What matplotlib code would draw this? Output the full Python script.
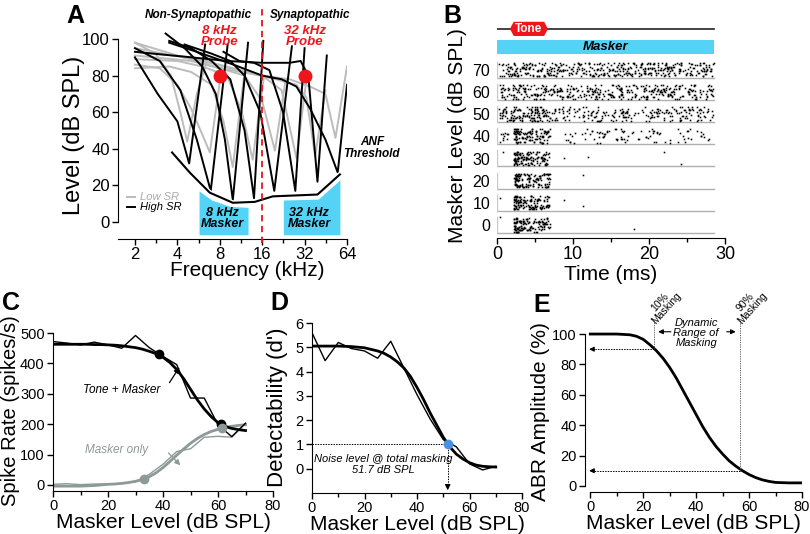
import numpy as np
import matplotlib
matplotlib.use('Agg')
import matplotlib.pyplot as plt
from matplotlib.patches import Polygon, Rectangle
from matplotlib.ticker import FixedLocator, NullFormatter
import matplotlib.patheffects as pe

plt.rcParams['font.family'] = ['Liberation Sans', 'DejaVu Sans']

# ---------------- Panel A data (frequency kHz, level dB SPL) ----------------
high_sr_freqs = [
    [2.0, 2.9, 4.0, 4.85, 6.3],
    [2.0, 3.0, 4.2, 5.5, 6.9, 9.1],
    [3.3, 4.5, 6.0, 7.5, 8.7, 9.9, 12.7],
    [3.5, 5.0, 7.0, 9.5, 12.0, 14.0, 16.3],
    [4.5, 7.0, 9.5, 12.0, 15.5, 19.5, 26.0],
    [8.5, 11.0, 14.0, 18.0, 22.5, 27.5, 32.0],
    [2.0, 5.0, 9.0, 16.0, 25.0, 30.0, 34.0, 39.5, 46.0],
    [3.5, 6.0, 10.0, 16.0, 22.0, 28.0, 35.0, 45.0, 55.0, 64.0],
]
high_sr_levels = [
    [90, 70, 55, 32, 97],
    [95, 88, 72, 45, 17, 97],
    [103, 95, 85, 70, 45, 12, 98],
    [99, 95, 88, 78, 50, 13, 99],
    [97, 92, 88, 80, 60, 17, 96],
    [93, 88, 87, 83, 60, 17, 95],
    [93, 90, 88, 87, 87, 88, 80, 22, 91],
    [98, 92, 86, 80, 78, 74, 62, 45, 27, 75],
]
low_sr_freqs = [
    [2.0, 2.8, 3.6, 4.2, 4.7, 5.5, 6.5],
    [2.0, 3.0, 4.0, 5.0, 6.0, 6.8, 8.3],
    [2.0, 3.5, 5.0, 7.0, 8.5, 9.9, 12.0],
    [2.0, 4.0, 6.0, 9.0, 11.5, 13.7, 16.5],
    [2.0, 5.0, 8.0, 12.0, 16.0, 19.7, 23.5],
    [2.0, 5.0, 10.0, 16.0, 22.0, 28.0, 33.0],
    [2.0, 6.0, 12.0, 20.0, 28.0, 33.0, 38.0, 45.0],
    [2.0, 8.0, 16.0, 25.0, 35.0, 45.0, 53.0, 64.0],
]
low_sr_levels = [
    [98, 92, 80, 60, 44, 70, 88],
    [86, 84, 75, 62, 48, 38, 85],
    [84, 85, 82, 75, 55, 30, 82],
    [89, 88, 85, 80, 60, 34, 80],
    [91, 88, 84, 80, 66, 39, 78],
    [93, 90, 84, 80, 72, 35, 78],
    [95, 88, 82, 78, 75, 68, 36, 72],
    [98, 84, 80, 78, 74, 70, 46, 85],
]
anf_thr_freq = [3.67, 4.9, 6.8, 9.9, 14.2, 19.0, 39.5, 57.0]
anf_thr_level = [38, 27, 16, 10.5, 11, 14, 15, 26]
masker8_freq = [5.7, 7.0, 9.5, 12.7]
masker8_top = [17, 12, 8.5, 8]
masker32_freq = [22.6, 40.0, 57.0]
masker32_top = [12, 12.5, 23]
masker_bottom = -7
probe_freqs = [8, 32]
probe_levels = [80, 80]
synaptopathy_edge = 16
freq_ticks = [2, 4, 8, 16, 32, 64]

# ---------------- Panel B data (raster) ----------------
raster_levels = [0, 10, 20, 30, 40, 50, 60, 70]
# (start ms, end ms, spike count) segments read from each row
raster_segments = [
    [(2.2, 2.9, 40), (2.9, 7.0, 95)],
    [(2.2, 2.9, 40), (2.9, 7.0, 95)],
    [(2.2, 2.9, 40), (2.9, 7.0, 95)],
    [(2.2, 2.9, 40), (2.9, 7.0, 95)],
    [(0.3, 2.0, 10), (2.2, 2.9, 35), (2.9, 7.0, 85), (9.0, 28.0, 90)],
    [(0.2, 7.0, 130), (7.0, 28.5, 200)],
    [(0.2, 28.5, 380)],
    [(0.2, 28.5, 420)],
]
# sporadic single spikes (time ms, height within row)
raster_sporadic = [
    [(0.4, 0.65), (18.0, 0.1)],
    [(0.4, 0.5), (8.8, 0.45), (11.3, 0.15)],
    [(11.3, 0.55)],
    [(0.8, 0.6), (8.8, 0.3), (12.0, 0.35), (22.0, 0.6), (24.2, 0.05)],
    [], [], [], [],
]
stim_end = 28.6
tone_on, tone_off = 1.7, 6.7

# ---------------- Panel C data ----------------
c_levels = [0, 5, 10, 15, 20, 25, 30, 35, 40, 45, 50, 55, 60, 65, 70]
c_tone_masker = [472, 467, 461, 470, 461, 450, 492, 452, 423, 396, 286, 286, 198, 159, 203]
c_masker_only = [2, 4, 1, 3, 3, 5, 10, 35, 68, 110, 119, 157, 160, 157, 203]
c_fit_levels = [0, 2.5, 5, 7.5, 10, 12.5, 15, 17.5, 20, 22.5, 25, 27.5, 30, 32.5, 35,
                37.5, 40, 42.5, 45, 47.5, 50, 52.5, 55, 57.5, 60, 62.5, 65, 67.5, 70]
c_fit_tone = [463, 463, 463, 463, 463, 463, 462, 462, 461, 460, 458, 455, 452, 447, 440,
              432, 420, 403, 380, 350, 315, 280, 250, 225, 205, 193, 186, 182, 179]
c_fit_masker = [-4, -4, -4, -4, -4, -3, -2, 0, 2, 3, 5, 8, 12, 18, 27,
                40, 57, 77, 98, 118, 137, 153, 166, 176, 183, 189, 193, 196, 198]
c_tone_marks_x = [38.5, 61]
c_tone_marks_y = [432, 202]
c_mask_marks_x = [33, 61.5]
c_mask_marks_y = [20, 186]

# ---------------- Panel D data ----------------
d_levels = [0, 5, 10, 15, 20, 25, 30, 35, 40, 45, 50, 55, 60, 65, 70]
d_prime = [5.6, 4.45, 5.2, 4.95, 4.85, 4.55, 5.25, 4.15, 3.05, 2.05, 1.2, 0.9, 0.2, -0.05, 0.1]
d_fit_levels = [0, 5, 10, 15, 20, 25, 27.5, 30, 32.5, 35, 37.5, 40, 42.5, 45, 47.5,
                50, 52.5, 55, 57.5, 60, 62.5, 65, 67.5, 70]
d_fit = [5.05, 5.05, 5.05, 5.03, 4.98, 4.85, 4.75, 4.6, 4.4, 4.15, 3.8, 3.35, 2.85, 2.3, 1.8,
         1.3, 0.9, 0.6, 0.4, 0.25, 0.15, 0.1, 0.08, 0.07]
d_threshold_level = 51.7
d_threshold_dprime = 1.0

# ---------------- Panel E data ----------------
e_levels = [0, 5, 10, 15, 17.5, 20, 22.5, 25, 27.5, 30, 32.5, 35, 37.5, 40, 42.5, 45,
            47.5, 50, 52.5, 55, 57.5, 60, 62.5, 65, 67.5, 70, 75, 80]
e_amp = [100, 100, 100, 99.5, 98.5, 96.5, 93, 89, 84, 78, 71, 63, 55, 47, 39, 32,
         26, 21, 16.5, 13, 10, 7.5, 5.5, 4, 3, 2.3, 2, 2]
e_mask10_level, e_mask90_level = 24, 56.5

# ---------------- figure ----------------
fig = plt.figure(figsize=(8.1, 5.34), dpi=100)


def rect(l, t, r, b):
    return [l / 810, 1 - b / 534, (r - l) / 810, (b - t) / 534]


LAB = 15
CYAN = '#55d3f6'
GREY = '#bcbcbc'


def style(ax, tsize):
    for s in ('top', 'right'):
        ax.spines[s].set_visible(False)
    ax.tick_params(direction='out', length=4, width=1, labelsize=tsize, pad=2)
    ax.tick_params(which='minor', direction='out', length=3, width=1)


# ===== Panel A =====
axA = fig.add_axes(rect(118, 31.7, 347, 239))
axA.set_xscale('log', base=2)
axA.set_xlim(1.516, 64)
axA.set_ylim(-9.3, 104)
style(axA, 12)
axA.spines['left'].set_bounds(0, 100)
axA.set_xticks(freq_ticks)
axA.set_xticklabels([str(f) for f in freq_ticks])
axA.xaxis.set_minor_locator(FixedLocator([f * 2 ** 0.5 for f in freq_ticks[:-1]]))
axA.xaxis.set_minor_formatter(NullFormatter())
axA.set_yticks([0, 20, 40, 60, 80, 100])
axA.set_xlabel('Frequency (kHz)', fontsize=LAB)
axA.xaxis.set_label_coords(0.563, -0.105)
axA.set_ylabel('Level (dB SPL)', fontsize=17)
axA.yaxis.set_label_coords(-0.144, 0.5)

axA.fill_between(masker8_freq, masker_bottom, masker8_top, color=CYAN, lw=0, zorder=1)
axA.fill_between(masker32_freq, masker_bottom, masker32_top, color=CYAN, lw=0, zorder=1)
for fr, lv in zip(low_sr_freqs, low_sr_levels):
    axA.plot(fr, lv, color=GREY, lw=1.4, zorder=2)
for fr, lv in zip(high_sr_freqs, high_sr_levels):
    axA.plot(fr, lv, color='black', lw=1.4, zorder=3)
axA.plot(anf_thr_freq, anf_thr_level, color='black', lw=1.5, zorder=4,
         path_effects=[pe.Stroke(linewidth=3.5, foreground='white'), pe.Normal()])
axA.plot([synaptopathy_edge, synaptopathy_edge], [-11.5, 117], color='#e8141b',
         lw=1.3, ls=(0, (3.5, 2.5)), clip_on=False, zorder=5)
axA.plot(probe_freqs, probe_levels, 'o', color='#f0141b', ms=10, mew=0, zorder=6)

it = dict(style='italic', fontweight='bold', ha='center', va='center')
axA.text(5.6, 113, 'Non-Synaptopathic', fontsize=8.5, clip_on=False, **it)
axA.text(35, 113, 'Synaptopathic', fontsize=8.5, clip_on=False, **it)
axA.text(8, 101.5, '8 kHz\nProbe', fontsize=9.5, color='#f0141b', linespacing=0.9, **it)
axA.text(32, 101.5, '32 kHz\nProbe', fontsize=9.5, color='#f0141b', linespacing=0.9, **it)
axA.text(8.4, 2, '8 kHz\nMasker', fontsize=9, linespacing=0.95, zorder=7, **it)
axA.text(34.5, 2, '32 kHz\nMasker', fontsize=9, linespacing=0.95, zorder=7, **it)
axA.text(96, 40.5, 'ANF\nThreshold', fontsize=8.5, linespacing=0.95, **it)
axA.annotate('', xy=(65, 25.5), xytext=(80, 30.5),
             arrowprops=dict(arrowstyle='-|>', color='black', lw=0.8, mutation_scale=7))
axA.plot([1.75, 2.0], [13.7, 13.7], color=GREY, lw=1.4, clip_on=False)
axA.plot([1.75, 2.0], [8.2, 8.2], color='black', lw=1.4, clip_on=False)
axA.text(2.16, 13.7, 'Low SR', fontsize=8, style='italic', color='#aaaaaa', va='center')
axA.text(2.16, 8.2, 'High SR', fontsize=8, style='italic', color='black', va='center')

# ===== Panel B =====
axB = fig.add_axes(rect(497, 20, 725, 238))
axB.set_xlim(0, 30)
axB.set_ylim(-0.225, 9.6)
style(axB, 13)
axB.spines['left'].set_visible(False)
axB.spines['bottom'].set_bounds(0, 30)
axB.set_xticks([0, 10, 20, 30])
axB.xaxis.set_minor_locator(FixedLocator([5, 15, 25]))
axB.set_yticks([k + 0.35 for k in range(len(raster_levels))])
axB.set_yticklabels([str(v) for v in raster_levels])
axB.tick_params(axis='y', length=0, pad=5, labelsize=11.5)
axB.set_xlabel('Time (ms)', fontsize=LAB, labelpad=1)
axB.set_ylabel('Masker Level (dB SPL)', fontsize=LAB)
axB.yaxis.set_label_coords(-0.13, 0.468)

rng = np.random.default_rng(11)
for i, segs in enumerate(raster_segments):
    axB.plot([0, stim_end], [i, i], color='#b0b0b0', lw=1.0, zorder=1)
    axB.plot([0, 0], [i, i + 0.72], color='#c8c8c8', lw=1.0, zorder=1)
    ts, ys = [], []
    for t0, t1, n in segs:
        ts.append(rng.uniform(t0, t1, n))
        ys.append(i + 0.06 + 0.055 * rng.integers(0, 12, n))
    for t, h in raster_sporadic[i]:
        ts.append(np.array([t]))
        ys.append(np.array([i + 0.06 + h]))
    axB.plot(np.concatenate(ts), np.concatenate(ys), 's', color='black', ms=1.15, mew=0, zorder=2)

axB.add_patch(Rectangle((0, 8.08), stim_end, 0.63, color=CYAN, lw=0, zorder=1))
axB.text(stim_end / 2, 8.4, 'Masker', fontsize=9.5, style='italic', fontweight='bold',
         ha='center', va='center')
axB.plot([0, stim_end], [9.2, 9.2], color='#222222', lw=1.2, zorder=1)
hx = [tone_on, tone_on + 0.5, tone_off - 0.5, tone_off, tone_off - 0.5, tone_on + 0.5]
hy = [9.2, 9.52, 9.52, 9.2, 8.88, 8.88]
axB.add_patch(Polygon(list(zip(hx, hy)), closed=True, color='#f0141b', lw=0, zorder=2))
axB.text((tone_on + tone_off) / 2, 9.2, 'Tone', fontsize=8.5, color='white', fontweight='bold',
         ha='center', va='center', zorder=3)

# ===== Panel C =====
axC = fig.add_axes(rect(53, 330, 273, 491))
axC.set_xlim(0, 80)
axC.set_ylim(-20, 510)
style(axC, 10.5)
axC.spines['left'].set_bounds(-20, 500)
axC.set_xticks([0, 20, 40, 60, 80])
axC.xaxis.set_minor_locator(FixedLocator([10, 30, 50, 70]))
axC.set_yticks([0, 100, 200, 300, 400, 500])
axC.set_xlabel('Masker Level (dB SPL)', fontsize=LAB, labelpad=0)
axC.set_ylabel('Spike Rate (spikes/s)', fontsize=14.5)
axC.yaxis.set_label_coords(-0.15, 0.5)
CG = '#8e9999'
axC.plot(c_levels, c_masker_only, color=CG, lw=1.0)
axC.plot(c_fit_levels, c_fit_masker, color=CG, lw=2.0)
axC.plot(c_levels, c_tone_masker, color='black', lw=1.0)
axC.plot(c_fit_levels, c_fit_tone, color='black', lw=2.0)
axC.plot(c_tone_marks_x, c_tone_marks_y, 'o', color='black', ms=7, mew=0)
axC.plot(c_mask_marks_x, c_mask_marks_y, 'o', color=CG, ms=7, mew=0)
axC.text(25, 312, 'Tone + Masker', fontsize=8.5, style='italic', ha='center', va='center')
axC.annotate('', xy=(46.5, 395), xytext=(41.8, 329),
             arrowprops=dict(arrowstyle='-|>', color='black', lw=0.9, mutation_scale=8))
axC.text(23, 115, 'Masker only', fontsize=8.5, style='italic', color=CG, ha='center', va='center')
axC.annotate('', xy=(47, 58), xytext=(41.3, 112),
             arrowprops=dict(arrowstyle='-|>', color=CG, lw=0.9, mutation_scale=8))

# ===== Panel D =====
axD = fig.add_axes(rect(312, 320.6, 522, 493))
axD.set_xlim(0, 80)
axD.set_ylim(-1, 6.1)
style(axD, 10.5)
axD.spines['left'].set_bounds(-1, 6)
axD.set_xticks([0, 20, 40, 60, 80])
axD.xaxis.set_minor_locator(FixedLocator([10, 30, 50, 70]))
axD.set_yticks([0, 1, 2, 3, 4, 5, 6])
axD.set_xlabel('Masker Level (dB SPL)', fontsize=LAB, labelpad=0)
axD.set_ylabel("Detectability (d')", fontsize=16)
axD.yaxis.set_label_coords(-0.112, 0.5)
axD.plot(d_levels, d_prime, color='black', lw=1.0)
axD.plot(d_fit_levels, d_fit, color='black', lw=2.0)
axD.plot([0, d_threshold_level], [d_threshold_dprime] * 2, color='black', lw=0.7, ls=(0, (1.5, 1.2)))
axD.plot([d_threshold_level] * 2, [d_threshold_dprime, -0.75], color='black', lw=0.7, ls=(0, (1.5, 1.2)))
axD.annotate('', xy=(d_threshold_level, -1.0), xytext=(d_threshold_level, -0.6),
             arrowprops=dict(arrowstyle='-|>', color='black', lw=0.8, mutation_scale=8))
axD.plot([d_threshold_level], [d_threshold_dprime], 'o', color='#4a90e2', ms=7, mew=0, zorder=5)
axD.text(27, 0.18, 'Noise level @ total masking\n51.7 dB SPL', fontsize=8, style='italic',
         ha='center', va='center', linespacing=1.1)

# ===== Panel E =====
axE = fig.add_axes(rect(585, 331, 802, 492))
axE.set_xlim(-2, 80)
axE.set_ylim(-4, 102)
style(axE, 10.5)
axE.spines['left'].set_bounds(0, 100)
axE.spines['bottom'].set_bounds(0, 80)
axE.set_xticks([0, 20, 40, 60, 80])
axE.xaxis.set_minor_locator(FixedLocator([10, 30, 50, 70]))
axE.set_yticks([0, 20, 40, 60, 80, 100])
axE.set_xlabel('Masker Level (dB SPL)', fontsize=LAB, labelpad=0)
axE.set_ylabel('ABR Amplitude (%)', fontsize=LAB)
axE.yaxis.set_label_coords(-0.161, 0.5)
axE.plot(e_levels, e_amp, color='black', lw=2.0)
dot = dict(color='#555555', lw=0.7, ls=(0, (1.2, 1.2)))
axE.plot([e_mask10_level] * 2, [90, 110], clip_on=False, **dot)
axE.plot([e_mask90_level] * 2, [10, 110], clip_on=False, **dot)
axE.plot([e_mask10_level, 0.5], [90, 90], color='black', lw=0.7, ls=(0, (1.5, 1.2)))
axE.plot([e_mask90_level, 0.5], [10, 10], color='black', lw=0.7, ls=(0, (1.5, 1.2)))
for yv in (90, 10):
    axE.annotate('', xy=(-1.5, yv), xytext=(2.5, yv),
                 arrowprops=dict(arrowstyle='-|>', color='black', lw=0.8, mutation_scale=7))
axE.text(40, 101, 'Dynamic\nRange of\nMasking', fontsize=8, style='italic', ha='center',
         va='center', linespacing=1.0)
axE.annotate('', xy=(24.6, 101.5), xytext=(31.5, 101.5),
             arrowprops=dict(arrowstyle='-|>', color='black', lw=0.8, mutation_scale=7))
axE.annotate('', xy=(56.0, 101.5), xytext=(50.5, 101.5),
             arrowprops=dict(arrowstyle='-|>', color='black', lw=0.8, mutation_scale=7))
axE.text(27.5, 119, '10%\nMasking', fontsize=7.5, rotation=48, ha='center', va='center',
         linespacing=0.9, clip_on=False)
axE.text(60, 119, '90%\nMasking', fontsize=7.5, rotation=48, ha='center', va='center',
         linespacing=0.9, clip_on=False)

# panel letters
for lab, x, y in [('A', 66, 23), ('B', 443, 23), ('C', 2, 310), ('D', 270, 310), ('E', 533, 312)]:
    fig.text(x / 810, 1 - y / 534, lab, fontsize=18, fontweight='bold', va='baseline', ha='left')

fig.savefig('out.png', dpi=100)
